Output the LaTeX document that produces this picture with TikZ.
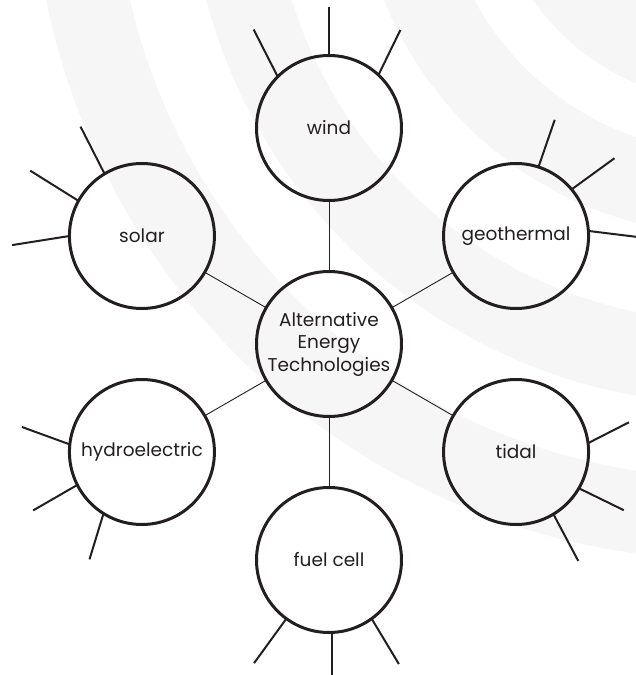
\documentclass[tikz,border=0pt]{standalone}
\usepackage{fontspec}
\setmainfont{Poppins}

\definecolor{inkdark}{RGB}{35,31,32}
\definecolor{bandgray}{RGB}{246,246,246}

\tikzset{
	topic/.style = {circle, draw = inkdark, line width = 3pt, minimum size = 145pt, inner sep = 0pt, outer sep = 0pt, text = inkdark, font = \fontsize{18.5}{22.5}\selectfont},
	spoke/.style = {draw = inkdark, line width = 2pt},
	link/.style = {draw = inkdark, line width = 0.9pt}
}

\begin{document}
\begin{tikzpicture}[x = 1pt, y = 1pt]
		\useasboundingbox (-329, -331) rectangle (307, 344);
		\clip (-329, -331) rectangle (307, 344);
		\foreach \r/\s in {698/616, 542/460, 373/291, 241/150}
			\fill[bandgray, even odd rule] (401.5, 482.2) circle (\r) (401.5, 482.2) circle (\s);
		\node[topic, align = center] (aet) at (0, 0) {Alternative\\Energy\\Technologies};
		\node[topic] (wind) at (90:216) {wind};
		\node[topic] (geothermal) at (30:216) {geothermal};
		\node[topic] (tidal) at (-30:216) {tidal};
		\node[topic] (fuelcell) at (-90:216) {fuel cell};
		\node[topic] (hydro) at (210:216) {hydroelectric};
		\node[topic] (solar) at (150:216) {solar};
		\foreach \n in {wind, geothermal, tidal, fuelcell, hydro, solar}
			\draw[link] (aet) to (\n);
		\foreach \a/\d/\l in {135/117/53, 90/90/48, 47/64/50}
			\draw[spoke] (wind.\a) to ++(\d:\l);
		\foreach \a/\d/\l in {121/117/53, 151/148/57, 180/189/58}
			\draw[spoke] (solar.\a) to ++(\d:\l);
		\foreach \a/\d/\l in {72/71/50, 40/36/53, 4/-7/60}
			\draw[spoke] (geothermal.\a) to ++(\d:\l);
		\foreach \a/\d/\l in {174/160/51, 207/210/51, 238/253/48}
			\draw[spoke] (hydro.\a) to ++(\d:\l);
		\foreach \a/\d/\l in {7/27/46, -30/-26/50, -59/-62/53}
			\draw[spoke] (tidal.\a) to ++(\d:\l);
		\foreach \a/\d/\l in {234/234/55, -88/-90/50, -54/-59/53}
			\draw[spoke] (fuelcell.\a) to ++(\d:\l);
	\end{tikzpicture}
\end{document}
